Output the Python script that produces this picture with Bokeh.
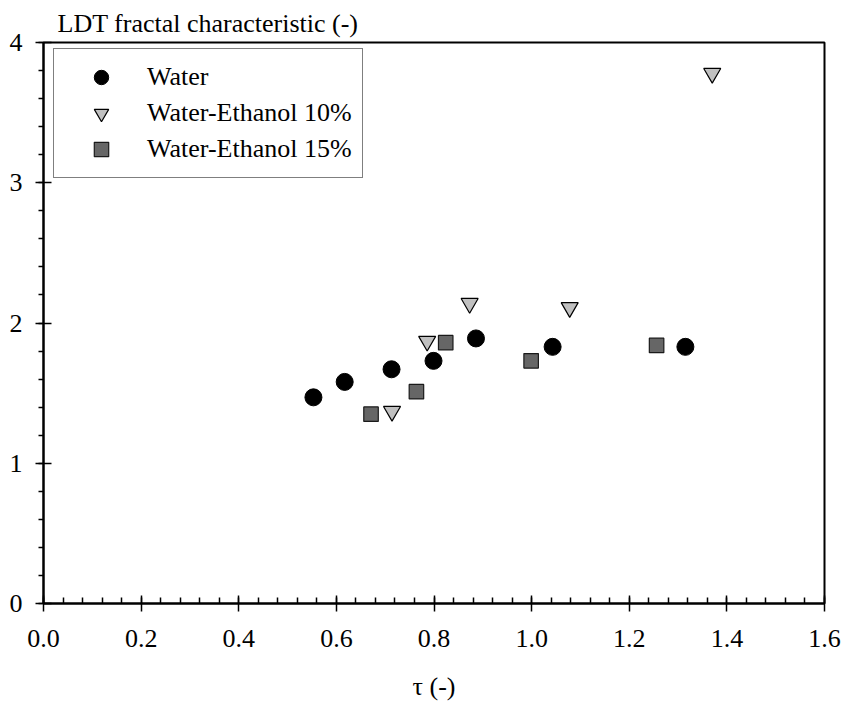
from bokeh.plotting import figure
from bokeh.models import (Range1d, FixedTicker, PrintfTickFormatter,
                          Legend, LegendItem, Title)
from bokeh.embed import file_html
from bokeh.resources import INLINE

# LDT fractal characteristic versus dimensionless time tau
water_tau = [0.553, 0.617, 0.713, 0.799, 0.886, 1.043, 1.315]
water_ldt = [1.47, 1.58, 1.67, 1.73, 1.89, 1.83, 1.83]

eth10_tau = [0.714, 0.786, 0.873, 1.078, 1.370]
eth10_ldt = [1.37, 1.87, 2.14, 2.11, 3.78]

eth15_tau = [0.671, 0.764, 0.824, 0.999, 1.256]
eth15_ldt = [1.35, 1.51, 1.86, 1.73, 1.84]

x_ticks = [0.0, 0.2, 0.4, 0.6, 0.8, 1.0, 1.2, 1.4, 1.6]
y_ticks = [0, 1, 2, 3, 4]

FONT = "'Liberation Serif', 'Times New Roman', serif"
FS = "26px"

p = figure(width=841, height=705, output_backend="svg", toolbar_location=None,
           x_range=Range1d(0, 1.6), y_range=Range1d(0, 4),
           min_border_left=43, min_border_right=17,
           min_border_top=42, min_border_bottom=102)
p.grid.visible = False
p.background_fill_color = "white"
p.border_fill_color = "white"
p.outline_line_color = "black"
p.outline_line_width = 2

x_minor = [round(i * 0.04, 2) for i in range(41)]
y_minor = [round(i * 0.2, 1) for i in range(21)]

xa = p.xaxis[0]
xa.ticker = FixedTicker(ticks=x_ticks, minor_ticks=x_minor)
xa.formatter = PrintfTickFormatter(format="%.1f")
xa.major_tick_in = 8
xa.major_tick_out = 8
xa.minor_tick_in = 6
xa.minor_tick_out = 0
xa.major_label_standoff = 18
xa.axis_label = "τ (-)"
xa.axis_label_standoff = 22
xa.axis_label_text_font = FONT
xa.axis_label_text_font_size = FS
xa.axis_label_text_font_style = "normal"
xa.axis_label_text_color = "black"

ya = p.yaxis[0]
ya.ticker = FixedTicker(ticks=y_ticks, minor_ticks=y_minor)
ya.formatter = PrintfTickFormatter(format="%d")
ya.major_tick_in = 8
ya.major_tick_out = 8
ya.minor_tick_in = 0
ya.minor_tick_out = 5
ya.major_label_standoff = 13

for ax in (xa, ya):
    ax.axis_line_color = "black"
    ax.axis_line_width = 2
    ax.major_tick_line_color = "black"
    ax.major_tick_line_width = 1.5
    ax.minor_tick_line_color = "black"
    ax.minor_tick_line_width = 1.5
    ax.major_label_text_font = FONT
    ax.major_label_text_font_size = FS
    ax.major_label_text_color = "black"

r_water = p.scatter(water_tau, water_ldt, marker="circle", size=17,
                    fill_color="black", line_color="black")
r_e10 = p.scatter(eth10_tau, eth10_ldt, marker="inverted_triangle", size=17,
                  fill_color="#c0c0c0", line_color="black", line_width=1.2)
r_e15 = p.scatter(eth15_tau, eth15_ldt, marker="square", size=14.5,
                  fill_color="#666666", line_color="#1a1a1a", line_width=1.2)

legend = Legend(items=[
    LegendItem(label="Water", renderers=[r_water]),
    LegendItem(label="Water-Ethanol 10%", renderers=[r_e10]),
    LegendItem(label="Water-Ethanol 15%", renderers=[r_e15]),
], location=(10, 425))
legend.label_text_font = FONT
legend.label_text_font_size = FS
legend.label_text_color = "black"
legend.glyph_width = 74
legend.glyph_height = 36
legend.label_height = 36
legend.spacing = 0
legend.padding = 10
legend.margin = 0
legend.label_standoff = 9
legend.border_line_color = "black"
legend.border_line_width = 1.5
legend.background_fill_color = "white"
legend.background_fill_alpha = 1
p.add_layout(legend, "center")

# Vertical axis title, written horizontally above the frame
p.add_layout(Title(text="LDT fractal characteristic (-)", align="left",
                   offset=14, standoff=9, text_font=FONT,
                   text_font_size=FS, text_font_style="normal",
                   text_color="black"), "above")

open("out.html", "w").write(file_html(p, INLINE))
